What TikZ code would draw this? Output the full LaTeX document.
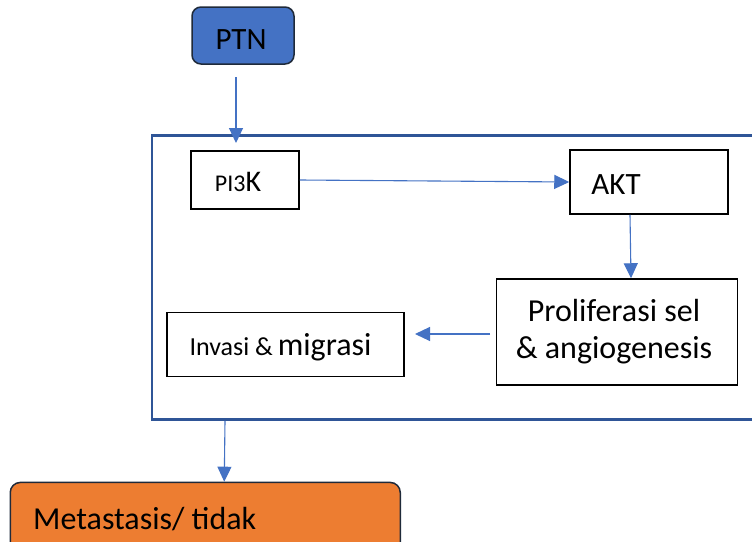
\documentclass[tikz,border=0pt]{standalone}
\usepackage{fontspec}
\setmainfont{Carlito}
\usetikzlibrary{arrows.meta}
\definecolor{ptnblue}{HTML}{4472C4}
\definecolor{frameblue}{HTML}{2F5597}
\definecolor{metorange}{HTML}{ED7D31}
\definecolor{darkedge}{HTML}{1F2A3A}
\begin{document}
\begin{tikzpicture}[x=1pt,y=-1pt,
  box/.style={draw=black, line width=1.5pt, fill=white, inner sep=0pt},
  conn/.style={draw=ptnblue, line width=1.1pt, -{Triangle[length=15pt,width=14pt]}},
  txt/.style={inner sep=0pt, anchor=center, text=black}]
\useasboundingbox (0,0) rectangle (752,541);
\clip (0,0) rectangle (752,541);
\fill[white] (0,0) rectangle (752,541);
% outer frame
\node[draw=frameblue, line width=2.5pt, minimum width=618pt, minimum height=284pt, inner sep=0pt] (frame) at (461,277.5) {};
% PTN
\node[box, rounded corners=9pt, fill=ptnblue, draw=darkedge, minimum width=102pt, minimum height=57pt] (ptn) at (243,35.5) {};
\node[txt, font=\fontsize{31}{36}\selectfont] (ptntxt) at (241,40) {PTN};
% PI3K
\node[box, minimum width=108pt, minimum height=58pt] (pi3k) at (245,180) {};
\node[txt] (pi3ktxt) at (238,182) {{\fontsize{24}{28}\selectfont PI3}{\fontsize{30}{34}\selectfont K}};
% AKT
\node[box, minimum width=158pt, minimum height=64pt] (akt) at (649,182) {};
\node[txt, font=\fontsize{31}{36}\selectfont] (akttxt) at (616,185) {AKT};
% Proliferasi
\node[box, minimum width=241pt, minimum height=106pt] (prolif) at (617,332) {};
\node[txt, align=center, font=\fontsize{32}{37}\selectfont] (proliftxt) at (614,332) {Proliferasi sel\\\& angiogenesis};
% Invasi
\node[box, minimum width=237pt, minimum height=64pt] (invasi) at (285.5,344.7) {};
\node[txt] (invasitxt) at (280.5,347) {{\fontsize{26}{30}\selectfont Invasi \&}\hspace{5pt}{\fontsize{32}{36}\selectfont migrasi}};
% Metastasis
\node[box, rounded corners=10pt, fill=metorange, draw=darkedge, minimum width=390pt, minimum height=100pt, anchor=north west] (meta) at (9.5,481.7) {};
\node[txt, anchor=west, font=\fontsize{32}{38}\selectfont] (metatxt) at (33,519) {Metastasis/ tidak};
% connectors
\coordinate (a1s) at (236,77);
\coordinate (a1e) at (236,143);
\draw[conn] (a1s) -- (a1e);
\draw[conn] (pi3k.east) -- (akt.west);
\draw[conn] ([xshift=-19pt]akt.south) -- ([xshift=14pt]prolif.north);
\coordinate (a4s) at (490,334);
\coordinate (a4e) at (415,334);
\draw[conn] (a4s) -- (a4e);
\draw[conn] ([xshift=-236pt]frame.south) -- ([xshift=19pt]meta.north);
\end{tikzpicture}
\end{document}
